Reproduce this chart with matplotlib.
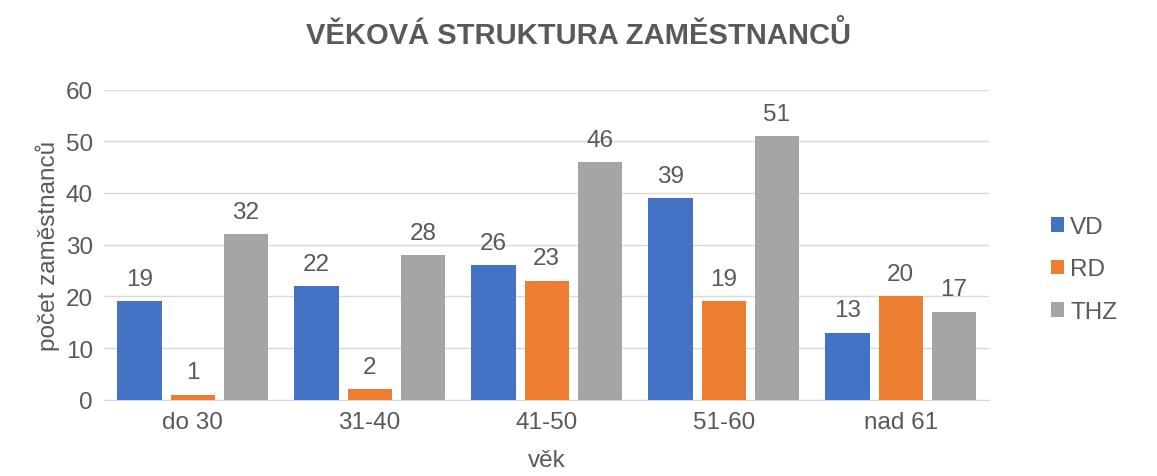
import matplotlib
matplotlib.use("Agg")
import matplotlib.pyplot as plt
import numpy as np

categories = ["do 30", "31-40", "41-50", "51-60", "nad 61"]
series_names = ["VD", "RD", "THZ"]
vd = [19, 22, 26, 39, 13]
rd = [1, 2, 23, 19, 20]
thz = [32, 28, 46, 51, 17]
yticks = [0, 10, 20, 30, 40, 50, 60]

colors = ["#4472C4", "#ED7D31", "#A5A5A5"]
text_color = "#595959"

plt.rcParams['font.family'] = ['Liberation Sans', 'DejaVu Sans']

fig = plt.figure(figsize=(11.57, 4.77), dpi=100)
ax = fig.add_axes([0.09, 0.16, 0.765, 0.65])

x = np.arange(len(categories))
width = 0.25
offset = 0.30
for i, (name, vals) in enumerate(zip(series_names, [vd, rd, thz])):
    pos = x + (i - 1) * offset
    bars = ax.bar(pos, vals, width, color=colors[i], label=name, zorder=3)
    for b, v in zip(bars, vals):
        ax.text(b.get_x() + b.get_width() / 2, v + 2.2, str(v), ha='center', va='bottom',
                fontsize=17.5, color=text_color)

ax.set_ylim(0, 60)
ax.set_xlim(-0.5, len(categories) - 0.5)
ax.set_yticks(yticks)
ax.set_xticks(x)
ax.set_xticklabels(categories)
ax.tick_params(axis='both', length=0, labelsize=17.5, labelcolor=text_color, pad=8)
ax.grid(axis='y', color='#D9D9D9', linewidth=1, zorder=0)
for s in ['top', 'right', 'left']:
    ax.spines[s].set_visible(False)
ax.spines['bottom'].set_color('#D9D9D9')

ax.set_xlabel("věk", fontsize=17.5, color=text_color, labelpad=12)
ax.set_ylabel("počet zaměstnanců", fontsize=17.5, color=text_color, labelpad=4)

fig.suptitle("VĚKOVÁ STRUKTURA ZAMĚSTNANCŮ", fontsize=21, fontweight='bold',
             color=text_color, y=0.955)

leg = ax.legend(loc='center left', bbox_to_anchor=(1.045, 0.42), frameon=False,
                fontsize=17.5, handlelength=0.55, handleheight=0.55, handletextpad=0.25,
                labelspacing=0.85, labelcolor=text_color)

fig.savefig("out.png", dpi=100, facecolor='white')
